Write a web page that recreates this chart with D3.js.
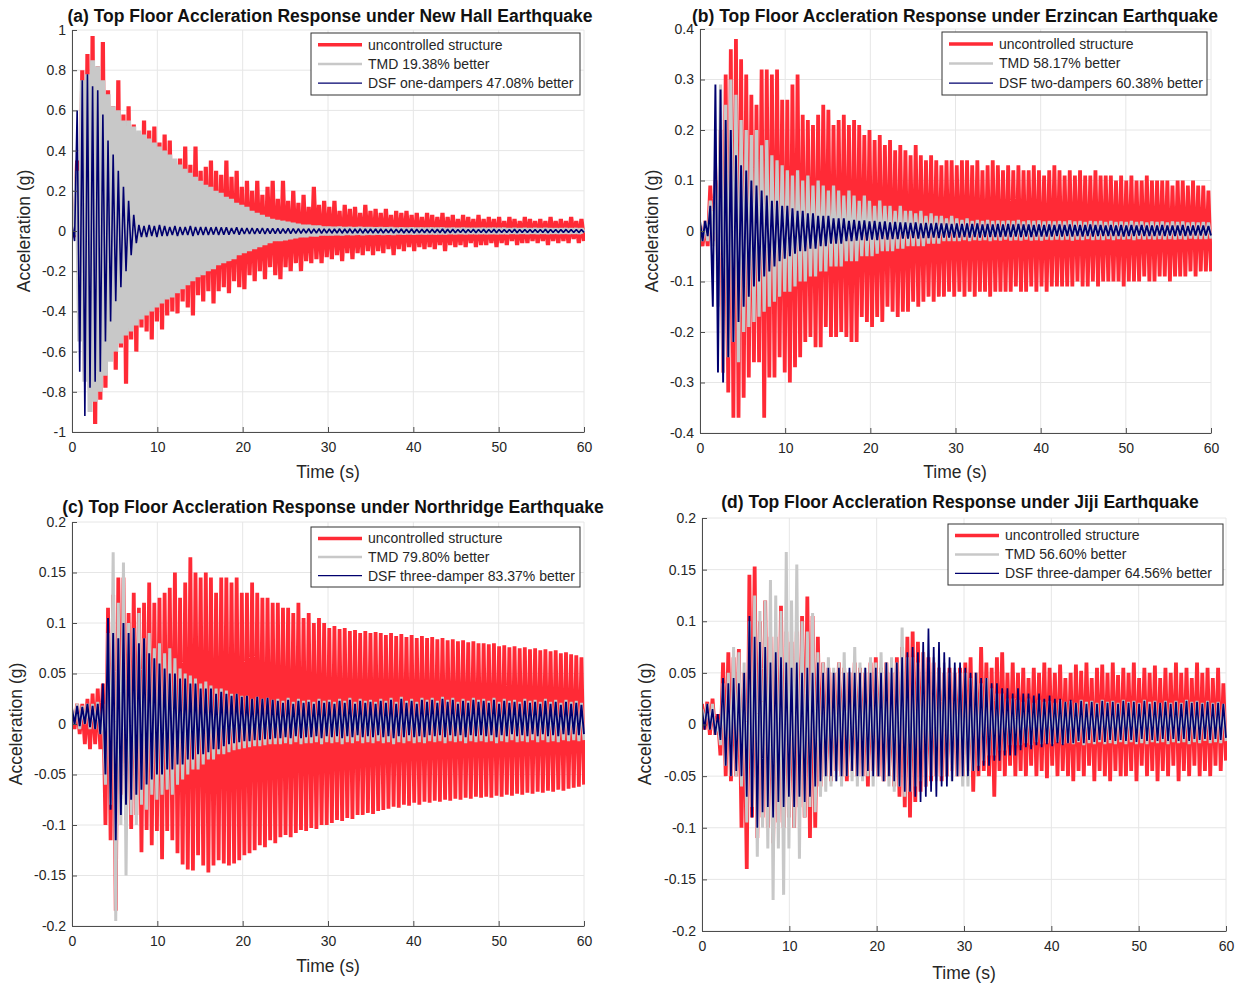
<!DOCTYPE html>
<html>
<head>
<meta charset="utf-8">
<script src="https://cdn.jsdelivr.net/npm/d3@7"></script>
<style>
  body { margin: 0; background: #fff; }
  svg { font-family: "Liberation Sans", Arial, sans-serif; }
</style>
</head>
<body>
<div id="chart"></div>
<script>
// ---------- data (peak values, alternating up / down swings, 0..60 s) ----------
const timeTicks = [0, 10, 20, 30, 40, 50, 60];
const accTicksNewHall = [-1, -0.8, -0.6, -0.4, -0.2, 0, 0.2, 0.4, 0.6, 0.8, 1];
const accTicksErzincan = [-0.4, -0.3, -0.2, -0.1, 0, 0.1, 0.2, 0.3, 0.4];
const accTicksSmall = [-0.2, -0.15, -0.1, -0.05, 0, 0.05, 0.1, 0.15, 0.2];

// (a) New Hall
const newHallUncUp = [
  0.03,0.35,0.80,0.88,0.97,0.82,0.94,0.70,0.62,0.75,
  0.58,0.62,0.53,0.45,0.55,0.50,0.52,0.44,0.48,0.45,
  0.35,0.36,0.42,0.33,0.42,0.30,0.32,0.35,0.30,0.28,
  0.35,0.27,0.30,0.22,0.25,0.20,0.25,0.18,0.22,0.25,
  0.16,0.25,0.15,0.20,0.14,0.18,0.12,0.22,0.13,0.15,
  0.12,0.15,0.10,0.13,0.11,0.12,0.09,0.13,0.10,0.11,
  0.09,0.11,0.08,0.10,0.09,0.10,0.08,0.09,0.07,0.09,
  0.08,0.07,0.09,0.07,0.08,0.06,0.08,0.07,0.06,0.08,
  0.06,0.07,0.06,0.07,0.05,0.07,0.06,0.05,0.07,0.06,
  0.05,0.06,0.05,0.07,0.05,0.06,0.05,0.07,0.05,0.06];
const newHallUncLo = [
  -0.03,-0.40,-0.70,-0.79,-0.96,-0.84,-0.78,-0.60,-0.69,-0.58,
  -0.76,-0.54,-0.60,-0.48,-0.50,-0.54,-0.45,-0.49,-0.42,-0.40,
  -0.41,-0.35,-0.38,-0.42,-0.32,-0.35,-0.30,-0.36,-0.30,-0.28,
  -0.31,-0.25,-0.28,-0.29,-0.22,-0.25,-0.20,-0.24,-0.18,-0.22,
  -0.24,-0.18,-0.20,-0.16,-0.20,-0.15,-0.16,-0.14,-0.16,-0.13,
  -0.14,-0.12,-0.15,-0.11,-0.14,-0.11,-0.12,-0.10,-0.12,-0.10,
  -0.11,-0.09,-0.12,-0.09,-0.10,-0.08,-0.10,-0.08,-0.09,-0.08,
  -0.09,-0.07,-0.10,-0.07,-0.08,-0.07,-0.08,-0.06,-0.08,-0.07,
  -0.07,-0.06,-0.08,-0.06,-0.07,-0.05,-0.07,-0.06,-0.06,-0.05,
  -0.06,-0.05,-0.07,-0.05,-0.06,-0.05,-0.06,-0.04,-0.06,-0.05];
const newHallTmdUp = [
  0.02,0.30,0.75,0.78,0.85,0.82,0.75,0.68,0.62,0.60,
  0.55,0.55,0.52,0.50,0.48,0.46,0.44,0.42,0.40,0.38,
  0.36,0.33,0.31,0.29,0.27,0.25,0.23,0.22,0.20,0.19,
  0.17,0.16,0.14,0.13,0.12,0.10,0.09,0.08,0.07,0.06,
  0.055,0.05,0.045,0.04,0.035,0.03,0.03,0.025,0.025,0.02,
  0.02,0.018,0.02,0.017,0.018,0.016,0.018,0.016,0.017,0.015,
  0.016,0.015,0.016,0.014,0.015,0.014,0.015,0.013,0.014,0.013,
  0.014,0.013,0.014,0.012,0.013,0.012,0.013,0.012,0.012,0.011,
  0.012,0.011,0.012,0.011,0.012,0.010,0.011,0.010,0.011,0.010,
  0.011,0.010,0.011,0.010,0.010,0.009,0.010,0.009,0.010,0.009];
const newHallTmdLo = [
  -0.02,-0.55,-0.75,-0.90,-0.85,-0.80,-0.72,-0.65,-0.60,-0.56,
  -0.52,-0.50,-0.47,-0.44,-0.42,-0.40,-0.38,-0.36,-0.34,-0.33,
  -0.31,-0.29,-0.27,-0.25,-0.23,-0.22,-0.20,-0.19,-0.17,-0.16,
  -0.15,-0.14,-0.12,-0.11,-0.10,-0.09,-0.08,-0.07,-0.06,-0.05,
  -0.05,-0.045,-0.04,-0.035,-0.03,-0.03,-0.025,-0.025,-0.02,-0.02,
  -0.02,-0.018,-0.02,-0.017,-0.018,-0.016,-0.018,-0.016,-0.017,-0.015,
  -0.016,-0.015,-0.016,-0.014,-0.015,-0.014,-0.015,-0.013,-0.014,-0.013,
  -0.014,-0.013,-0.014,-0.012,-0.013,-0.012,-0.013,-0.012,-0.012,-0.011,
  -0.012,-0.011,-0.012,-0.011,-0.012,-0.010,-0.011,-0.010,-0.011,-0.010,
  -0.011,-0.010,-0.011,-0.010,-0.010,-0.009,-0.010,-0.009,-0.010,-0.009];
const newHallDsfUp = [
  0.03,0.60,0.75,0.78,0.72,0.70,0.58,0.45,0.38,0.30,
  0.22,0.15,0.08,0.03,0.025,0.03,0.025,0.03,0.025,0.02,
  0.025,0.02,0.02,0.025,0.02,0.02,0.02,0.018,0.02,0.018,
  0.018,0.015,0.018,0.015,0.015,0.015,0.013,0.015,0.013,0.013,
  0.013,0.012,0.013,0.012,0.012,0.011,0.012,0.011,0.012,0.011,
  0.011,0.010,0.011,0.010,0.011,0.010,0.011,0.010,0.010,0.010,
  0.010,0.009,0.010,0.009,0.010,0.009,0.010,0.009,0.009,0.009,
  0.009,0.009,0.010,0.009,0.009,0.008,0.009,0.008,0.009,0.008,
  0.009,0.008,0.009,0.008,0.008,0.008,0.009,0.008,0.008,0.008,
  0.008,0.008,0.009,0.008,0.008,0.007,0.008,0.008,0.008,0.007];
const newHallDsfLo = [
  -0.05,-0.70,-0.92,-0.78,-0.75,-0.70,-0.55,-0.45,-0.35,-0.28,
  -0.20,-0.12,-0.06,-0.03,-0.03,-0.025,-0.03,-0.025,-0.025,-0.02,
  -0.025,-0.02,-0.02,-0.025,-0.02,-0.02,-0.02,-0.018,-0.02,-0.018,
  -0.018,-0.015,-0.018,-0.015,-0.015,-0.015,-0.013,-0.015,-0.013,-0.013,
  -0.013,-0.012,-0.013,-0.012,-0.012,-0.011,-0.012,-0.011,-0.012,-0.011,
  -0.011,-0.010,-0.011,-0.010,-0.011,-0.010,-0.011,-0.010,-0.010,-0.010,
  -0.010,-0.009,-0.010,-0.009,-0.010,-0.009,-0.010,-0.009,-0.009,-0.009,
  -0.009,-0.009,-0.010,-0.009,-0.009,-0.008,-0.009,-0.008,-0.009,-0.008,
  -0.009,-0.008,-0.009,-0.008,-0.008,-0.008,-0.009,-0.008,-0.008,-0.008,
  -0.008,-0.008,-0.009,-0.008,-0.008,-0.007,-0.008,-0.008,-0.008,-0.007];

// (b) Erzincan
const erzUncUp = [
  0.01,0.02,0.09,0.10,0.20,0.31,0.36,0.38,0.34,0.31,
  0.27,0.25,0.32,0.32,0.31,0.32,0.26,0.26,0.29,0.31,
  0.23,0.22,0.21,0.23,0.25,0.24,0.21,0.22,0.23,0.21,
  0.22,0.21,0.19,0.20,0.18,0.19,0.17,0.18,0.16,0.17,
  0.16,0.15,0.17,0.15,0.14,0.15,0.14,0.13,0.14,0.14,
  0.13,0.14,0.14,0.13,0.14,0.12,0.13,0.14,0.13,0.12,
  0.13,0.12,0.13,0.12,0.12,0.13,0.12,0.11,0.12,0.13,
  0.12,0.11,0.12,0.11,0.12,0.11,0.11,0.12,0.11,0.11,
  0.11,0.10,0.11,0.10,0.11,0.10,0.10,0.11,0.10,0.10,
  0.10,0.10,0.09,0.10,0.10,0.09,0.10,0.09,0.09,0.08];
const erzUncLo = [
  -0.03,-0.03,-0.02,-0.05,-0.28,-0.32,-0.37,-0.37,-0.33,-0.29,
  -0.26,-0.26,-0.37,-0.29,-0.29,-0.25,-0.28,-0.30,-0.27,-0.25,
  -0.22,-0.21,-0.23,-0.23,-0.19,-0.21,-0.21,-0.20,-0.21,-0.22,
  -0.22,-0.17,-0.18,-0.19,-0.17,-0.18,-0.15,-0.16,-0.17,-0.16,
  -0.16,-0.14,-0.15,-0.14,-0.13,-0.14,-0.13,-0.13,-0.12,-0.13,
  -0.12,-0.13,-0.12,-0.13,-0.12,-0.12,-0.13,-0.12,-0.12,-0.12,
  -0.12,-0.11,-0.12,-0.12,-0.11,-0.12,-0.11,-0.12,-0.11,-0.11,
  -0.11,-0.11,-0.11,-0.10,-0.11,-0.11,-0.10,-0.11,-0.10,-0.10,
  -0.10,-0.10,-0.11,-0.10,-0.10,-0.10,-0.09,-0.10,-0.10,-0.09,
  -0.09,-0.10,-0.09,-0.09,-0.09,-0.08,-0.09,-0.08,-0.08,-0.08];
const erzTmdUp = [
  0.01,0.02,0.06,0.12,0.29,0.25,0.30,0.27,0.22,0.20,
  0.19,0.20,0.17,0.18,0.15,0.14,0.13,0.12,0.11,0.12,
  0.10,0.11,0.09,0.10,0.09,0.08,0.09,0.08,0.07,0.08,
  0.07,0.06,0.07,0.06,0.05,0.06,0.05,0.05,0.04,0.05,
  0.04,0.04,0.035,0.04,0.03,0.035,0.03,0.03,0.025,0.03,
  0.025,0.022,0.025,0.020,0.022,0.020,0.022,0.020,0.021,0.020,
  0.021,0.020,0.022,0.019,0.021,0.020,0.021,0.019,0.020,0.019,
  0.020,0.019,0.021,0.019,0.020,0.018,0.020,0.019,0.020,0.018,
  0.020,0.018,0.019,0.018,0.020,0.018,0.019,0.017,0.019,0.018,
  0.019,0.017,0.019,0.018,0.019,0.017,0.018,0.017,0.018,0.017];
const erzTmdLo = [
  -0.02,-0.02,-0.03,-0.15,-0.28,-0.25,-0.22,-0.26,-0.20,-0.19,
  -0.18,-0.17,-0.16,-0.15,-0.14,-0.13,-0.12,-0.12,-0.11,-0.10,
  -0.10,-0.09,-0.09,-0.08,-0.08,-0.07,-0.07,-0.07,-0.06,-0.06,
  -0.06,-0.05,-0.05,-0.05,-0.045,-0.04,-0.04,-0.04,-0.035,-0.035,
  -0.03,-0.03,-0.03,-0.03,-0.025,-0.025,-0.025,-0.02,-0.02,-0.02,
  -0.020,-0.018,-0.020,-0.018,-0.019,-0.018,-0.020,-0.018,-0.019,-0.017,
  -0.019,-0.018,-0.019,-0.017,-0.019,-0.018,-0.019,-0.017,-0.018,-0.017,
  -0.018,-0.017,-0.019,-0.017,-0.018,-0.016,-0.018,-0.017,-0.018,-0.016,
  -0.018,-0.016,-0.017,-0.016,-0.018,-0.016,-0.017,-0.016,-0.017,-0.016,
  -0.017,-0.016,-0.017,-0.016,-0.017,-0.015,-0.016,-0.016,-0.016,-0.015];
const erzDsfUp = [
  0.02,0.02,0.05,0.29,0.28,0.22,0.20,0.15,0.13,0.12,
  0.10,0.09,0.08,0.07,0.06,0.06,0.05,0.05,0.045,0.04,
  0.04,0.035,0.035,0.03,0.03,0.03,0.025,0.025,0.025,0.02,
  0.022,0.02,0.021,0.019,0.02,0.018,0.019,0.017,0.018,0.017,
  0.017,0.016,0.017,0.015,0.016,0.015,0.016,0.015,0.015,0.014,
  0.015,0.014,0.015,0.014,0.015,0.013,0.014,0.013,0.014,0.013,
  0.014,0.013,0.014,0.013,0.013,0.012,0.013,0.012,0.013,0.012,
  0.013,0.012,0.013,0.012,0.012,0.012,0.013,0.012,0.012,0.011,
  0.012,0.011,0.012,0.011,0.012,0.011,0.012,0.011,0.011,0.011,
  0.012,0.011,0.011,0.011,0.012,0.010,0.011,0.011,0.011,0.010];
const erzDsfLo = [
  -0.02,-0.01,-0.15,-0.28,-0.30,-0.25,-0.22,-0.18,-0.15,-0.13,
  -0.11,-0.10,-0.09,-0.08,-0.07,-0.06,-0.055,-0.05,-0.045,-0.04,
  -0.04,-0.035,-0.035,-0.03,-0.03,-0.025,-0.025,-0.025,-0.02,-0.02,
  -0.019,-0.018,-0.019,-0.017,-0.018,-0.016,-0.017,-0.016,-0.016,-0.015,
  -0.015,-0.014,-0.015,-0.014,-0.014,-0.013,-0.014,-0.013,-0.013,-0.013,
  -0.013,-0.012,-0.013,-0.012,-0.013,-0.012,-0.012,-0.012,-0.012,-0.011,
  -0.012,-0.011,-0.012,-0.011,-0.012,-0.011,-0.011,-0.011,-0.011,-0.010,
  -0.011,-0.010,-0.011,-0.010,-0.011,-0.010,-0.011,-0.010,-0.010,-0.010,
  -0.010,-0.010,-0.011,-0.010,-0.010,-0.009,-0.010,-0.010,-0.010,-0.009,
  -0.010,-0.009,-0.010,-0.009,-0.010,-0.009,-0.009,-0.009,-0.009,-0.009];

// (c) Northridge
const nrUncUp = [
  0.01,0.02,0.02,0.025,0.03,0.035,0.04,0.115,0.128,0.145,
  0.145,0.11,0.13,0.115,0.12,0.14,0.12,0.125,0.13,0.135,
  0.15,0.125,0.14,0.165,0.15,0.145,0.15,0.145,0.13,0.145,
  0.145,0.14,0.145,0.13,0.13,0.14,0.13,0.125,0.125,0.12,
  0.12,0.115,0.115,0.11,0.12,0.105,0.11,0.10,0.105,0.10,
  0.095,0.097,0.094,0.095,0.092,0.093,0.09,0.092,0.09,0.091,
  0.09,0.088,0.09,0.087,0.089,0.086,0.088,0.085,0.087,0.085,
  0.086,0.084,0.085,0.083,0.084,0.082,0.083,0.081,0.082,0.08,
  0.08,0.079,0.08,0.077,0.078,0.076,0.077,0.075,0.076,0.074,
  0.075,0.073,0.074,0.072,0.073,0.07,0.071,0.069,0.068,0.066];
const nrUncLo = [
  -0.005,-0.01,-0.02,-0.025,-0.02,-0.025,-0.10,-0.115,-0.185,-0.07,
  -0.095,-0.104,-0.09,-0.127,-0.105,-0.12,-0.106,-0.134,-0.106,-0.115,
  -0.128,-0.139,-0.144,-0.145,-0.13,-0.14,-0.147,-0.14,-0.135,-0.138,
  -0.14,-0.138,-0.135,-0.13,-0.128,-0.125,-0.12,-0.122,-0.115,-0.118,
  -0.112,-0.11,-0.112,-0.108,-0.105,-0.106,-0.103,-0.104,-0.1,-0.1,
  -0.098,-0.095,-0.096,-0.093,-0.094,-0.09,-0.09,-0.088,-0.089,-0.086,
  -0.085,-0.084,-0.082,-0.083,-0.08,-0.081,-0.078,-0.08,-0.077,-0.078,
  -0.076,-0.077,-0.075,-0.076,-0.074,-0.075,-0.073,-0.074,-0.072,-0.073,
  -0.072,-0.073,-0.071,-0.072,-0.07,-0.071,-0.069,-0.07,-0.068,-0.069,
  -0.067,-0.068,-0.066,-0.067,-0.065,-0.066,-0.064,-0.063,-0.062,-0.06];
const nrTmdUp = [
  0.015,0.02,0.018,0.02,0.02,0.022,0.02,0.09,0.17,0.12,
  0.16,0.10,0.095,0.11,0.085,0.09,0.075,0.08,0.07,0.075,
  0.065,0.055,0.05,0.048,0.045,0.04,0.042,0.038,0.035,0.035,
  0.033,0.03,0.03,0.028,0.028,0.025,0.027,0.025,0.026,0.024,
  0.025,0.023,0.026,0.022,0.025,0.023,0.024,0.022,0.025,0.023,
  0.024,0.022,0.025,0.023,0.026,0.022,0.025,0.023,0.024,0.022,
  0.025,0.023,0.026,0.022,0.027,0.023,0.025,0.022,0.026,0.024,
  0.026,0.023,0.027,0.024,0.026,0.022,0.025,0.023,0.026,0.024,
  0.025,0.023,0.026,0.022,0.025,0.023,0.024,0.022,0.025,0.023,
  0.024,0.022,0.025,0.022,0.024,0.021,0.024,0.022,0.023,0.021];
const nrTmdLo = [
  0.0,-0.005,0.0,-0.005,-0.005,-0.01,-0.06,-0.08,-0.195,-0.10,
  -0.15,-0.09,-0.10,-0.08,-0.085,-0.07,-0.075,-0.07,-0.065,-0.07,
  -0.06,-0.055,-0.05,-0.045,-0.045,-0.04,-0.035,-0.035,-0.03,-0.03,
  -0.028,-0.026,-0.025,-0.024,-0.023,-0.022,-0.022,-0.021,-0.02,-0.02,
  -0.02,-0.019,-0.02,-0.018,-0.02,-0.019,-0.019,-0.018,-0.02,-0.018,
  -0.019,-0.018,-0.02,-0.018,-0.019,-0.017,-0.019,-0.018,-0.019,-0.017,
  -0.019,-0.018,-0.02,-0.018,-0.019,-0.017,-0.019,-0.018,-0.019,-0.017,
  -0.018,-0.017,-0.019,-0.017,-0.018,-0.017,-0.019,-0.017,-0.018,-0.017,
  -0.018,-0.017,-0.019,-0.017,-0.018,-0.016,-0.018,-0.017,-0.018,-0.016,
  -0.018,-0.016,-0.018,-0.017,-0.018,-0.016,-0.017,-0.016,-0.017,-0.016];
const nrDsfUp = [
  0.015,0.018,0.017,0.02,0.018,0.02,0.04,0.105,0.09,0.085,
  0.10,0.09,0.095,0.08,0.085,0.07,0.065,0.06,0.055,0.05,
  0.05,0.045,0.045,0.04,0.04,0.035,0.035,0.035,0.03,0.032,
  0.03,0.028,0.03,0.027,0.028,0.025,0.027,0.025,0.026,0.024,
  0.023,0.021,0.024,0.02,0.023,0.021,0.022,0.02,0.023,0.021,
  0.022,0.02,0.023,0.021,0.024,0.02,0.023,0.021,0.022,0.02,
  0.023,0.021,0.024,0.02,0.025,0.021,0.023,0.02,0.024,0.022,
  0.024,0.021,0.025,0.022,0.024,0.02,0.023,0.021,0.024,0.022,
  0.023,0.021,0.024,0.02,0.023,0.021,0.022,0.02,0.023,0.021,
  0.022,0.02,0.023,0.02,0.022,0.019,0.022,0.02,0.021,0.019];
const nrDsfLo = [
  0.0,-0.002,0.0,-0.003,-0.005,-0.01,-0.05,-0.085,-0.115,-0.09,
  -0.08,-0.075,-0.07,-0.065,-0.06,-0.055,-0.05,-0.05,-0.045,-0.045,
  -0.04,-0.04,-0.035,-0.035,-0.03,-0.03,-0.028,-0.025,-0.025,-0.022,
  -0.02,-0.019,-0.018,-0.017,-0.017,-0.016,-0.016,-0.015,-0.015,-0.014,
  -0.014,-0.013,-0.014,-0.012,-0.014,-0.013,-0.013,-0.012,-0.014,-0.012,
  -0.013,-0.012,-0.014,-0.012,-0.013,-0.011,-0.013,-0.012,-0.013,-0.011,
  -0.013,-0.012,-0.014,-0.012,-0.013,-0.011,-0.013,-0.012,-0.013,-0.011,
  -0.012,-0.011,-0.013,-0.011,-0.012,-0.011,-0.013,-0.011,-0.012,-0.011,
  -0.012,-0.011,-0.013,-0.011,-0.012,-0.010,-0.012,-0.011,-0.012,-0.010,
  -0.012,-0.010,-0.012,-0.011,-0.012,-0.010,-0.011,-0.010,-0.011,-0.010];

// (d) Jiji
const jijiUncUp = [
  0.02,0.022,0.025,0.01,0.06,0.07,0.065,0.073,0.05,0.145,
  0.153,0.10,0.12,0.085,0.085,0.115,0.09,0.08,0.09,0.105,
  0.124,0.105,0.085,0.06,0.055,0.05,0.06,0.055,0.05,0.06,
  0.055,0.05,0.06,0.065,0.055,0.06,0.05,0.065,0.075,0.085,
  0.09,0.08,0.07,0.065,0.06,0.055,0.05,0.055,0.05,0.055,
  0.06,0.065,0.05,0.075,0.06,0.055,0.065,0.07,0.05,0.06,
  0.05,0.055,0.045,0.055,0.05,0.06,0.055,0.05,0.058,0.045,
  0.05,0.058,0.052,0.06,0.045,0.055,0.058,0.05,0.06,0.048,
  0.055,0.05,0.06,0.045,0.055,0.05,0.057,0.045,0.055,0.05,
  0.06,0.05,0.055,0.045,0.06,0.05,0.055,0.045,0.055,0.04];
const jijiUncLo = [
  -0.005,-0.01,-0.01,-0.03,-0.05,-0.055,-0.05,-0.10,-0.14,-0.09,
  -0.11,-0.09,-0.10,-0.115,-0.095,-0.10,-0.09,-0.10,-0.08,-0.09,
  -0.11,-0.10,-0.06,-0.05,-0.055,-0.045,-0.05,-0.055,-0.045,-0.05,
  -0.05,-0.06,-0.045,-0.05,-0.055,-0.05,-0.06,-0.07,-0.08,-0.09,
  -0.075,-0.065,-0.06,-0.055,-0.05,-0.055,-0.05,-0.045,-0.05,-0.05,
  -0.045,-0.065,-0.05,-0.045,-0.05,-0.07,-0.045,-0.05,-0.04,-0.05,
  -0.045,-0.05,-0.04,-0.05,-0.045,-0.052,-0.04,-0.05,-0.045,-0.05,
  -0.055,-0.045,-0.05,-0.04,-0.055,-0.045,-0.05,-0.055,-0.045,-0.05,
  -0.05,-0.045,-0.055,-0.04,-0.05,-0.045,-0.055,-0.045,-0.05,-0.04,
  -0.055,-0.045,-0.05,-0.04,-0.05,-0.045,-0.05,-0.04,-0.045,-0.035];
const jijiTmdUp = [
  0.015,0.02,0.02,0.005,0.04,0.05,0.075,0.07,0.06,0.10,
  0.125,0.11,0.12,0.14,0.125,0.11,0.167,0.12,0.155,0.10,
  0.09,0.108,0.07,0.06,0.065,0.055,0.06,0.07,0.05,0.075,
  0.06,0.055,0.065,0.06,0.07,0.06,0.065,0.06,0.094,0.065,
  0.065,0.06,0.07,0.06,0.065,0.055,0.06,0.05,0.055,0.05,
  0.05,0.045,0.05,0.04,0.045,0.035,0.03,0.03,0.025,0.025,
  0.024,0.022,0.025,0.021,0.024,0.022,0.023,0.021,0.024,0.022,
  0.023,0.021,0.024,0.022,0.023,0.021,0.024,0.022,0.023,0.021,
  0.024,0.022,0.023,0.021,0.024,0.022,0.023,0.021,0.023,0.021,
  0.023,0.021,0.024,0.022,0.023,0.021,0.023,0.021,0.022,0.02];
const jijiTmdLo = [
  0.0,-0.005,-0.01,-0.02,-0.04,-0.05,-0.05,-0.06,-0.095,-0.08,
  -0.128,-0.10,-0.12,-0.17,-0.12,-0.165,-0.12,-0.10,-0.13,-0.09,
  -0.08,-0.085,-0.07,-0.065,-0.06,-0.055,-0.06,-0.05,-0.055,-0.06,
  -0.055,-0.05,-0.06,-0.05,-0.055,-0.06,-0.065,-0.06,-0.07,-0.065,
  -0.06,-0.055,-0.06,-0.05,-0.055,-0.05,-0.05,-0.055,-0.05,-0.06,
  -0.06,-0.045,-0.04,-0.035,-0.03,-0.03,-0.025,-0.025,-0.02,-0.02,
  -0.02,-0.018,-0.02,-0.017,-0.019,-0.018,-0.019,-0.017,-0.019,-0.018,
  -0.019,-0.017,-0.02,-0.018,-0.019,-0.017,-0.019,-0.018,-0.019,-0.017,
  -0.019,-0.017,-0.019,-0.018,-0.019,-0.017,-0.018,-0.017,-0.019,-0.017,
  -0.018,-0.017,-0.019,-0.017,-0.018,-0.016,-0.018,-0.017,-0.018,-0.016];
const jijiDsfUp = [
  0.015,0.02,0.015,0.01,0.045,0.04,0.045,0.04,0.05,0.105,
  0.085,0.08,0.075,0.06,0.07,0.065,0.06,0.055,0.06,0.05,
  0.055,0.05,0.06,0.05,0.055,0.05,0.055,0.05,0.055,0.05,
  0.05,0.055,0.05,0.055,0.05,0.06,0.055,0.06,0.065,0.07,
  0.075,0.07,0.08,0.093,0.075,0.08,0.07,0.065,0.06,0.06,
  0.055,0.05,0.05,0.045,0.045,0.04,0.04,0.035,0.035,0.03,
  0.035,0.03,0.03,0.028,0.03,0.025,0.028,0.025,0.025,0.022,
  0.024,0.021,0.023,0.02,0.022,0.02,0.023,0.021,0.022,0.02,
  0.023,0.021,0.022,0.02,0.023,0.02,0.022,0.021,0.022,0.02,
  0.022,0.02,0.023,0.021,0.022,0.02,0.022,0.02,0.021,0.02];
const jijiDsfLo = [
  -0.005,-0.005,-0.01,-0.015,-0.04,-0.05,-0.045,-0.05,-0.07,-0.09,
  -0.10,-0.085,-0.08,-0.09,-0.075,-0.08,-0.07,-0.08,-0.07,-0.075,
  -0.07,-0.06,-0.055,-0.05,-0.05,-0.055,-0.05,-0.05,-0.045,-0.05,
  -0.05,-0.045,-0.05,-0.05,-0.055,-0.05,-0.055,-0.06,-0.065,-0.065,
  -0.07,-0.075,-0.07,-0.065,-0.07,-0.06,-0.06,-0.055,-0.05,-0.05,
  -0.05,-0.045,-0.045,-0.04,-0.04,-0.035,-0.035,-0.03,-0.03,-0.03,
  -0.025,-0.022,-0.024,-0.02,-0.022,-0.019,-0.021,-0.018,-0.02,-0.018,
  -0.018,-0.016,-0.018,-0.015,-0.017,-0.015,-0.017,-0.015,-0.016,-0.015,
  -0.016,-0.015,-0.017,-0.014,-0.016,-0.015,-0.016,-0.014,-0.016,-0.014,
  -0.016,-0.014,-0.016,-0.014,-0.015,-0.014,-0.015,-0.014,-0.015,-0.013];

// ---------- styles ----------
const RED = "#ff2a36";
const GRAY = "#c8c8c8";
const NAVY = "#00006e";
const AXIS_COLOR = "#4d4d4d";
const TEXT_COLOR = "#262626";
const seriesColors = [RED, GRAY, NAVY];
const legendWidths = [3.5, 2.5, 1.2];

// Panel options built from the arrays above
const panels = [
  {
    title: "(a) Top Floor Accleration Response under New Hall Earthquake",
    box: { l: 72, r: 584, t: 30, b: 432 },
    yDomain: [-1, 1], yTicks: accTicksNewHall,
    titlePos: [330, 16], xLabelPos: [328, 472], yLabelPos: [24, 231],
    legendBox: { x: 311, y: 33, w: 269, h: 62 },
    labels: ["uncontrolled structure", "TMD 19.38% better", "DSF one-dampers 47.08% better"],
    widths: [4.2, 5, 1.6],
    series: [[newHallUncUp, newHallUncLo], [newHallTmdUp, newHallTmdLo], [newHallDsfUp, newHallDsfLo]]
  },
  {
    title: "(b) Top Floor Accleration Response under Erzincan Earthquake",
    box: { l: 700, r: 1211, t: 29, b: 433 },
    yDomain: [-0.4, 0.4], yTicks: accTicksErzincan,
    titlePos: [955, 16], xLabelPos: [955, 472], yLabelPos: [652, 231],
    legendBox: { x: 942, y: 32, w: 265, h: 63 },
    labels: ["uncontrolled structure", "TMD 58.17% better", "DSF two-dampers 60.38% better"],
    widths: [3.8, 3.2, 1.9],
    series: [[erzUncUp, erzUncLo], [erzTmdUp, erzTmdLo], [erzDsfUp, erzDsfLo]]
  },
  {
    title: "(c) Top Floor Accleration Response under Northridge Earthquake",
    box: { l: 72, r: 584, t: 522, b: 926 },
    yDomain: [-0.2, 0.2], yTicks: accTicksSmall,
    titlePos: [333, 507], xLabelPos: [328, 966], yLabelPos: [16, 724],
    legendBox: { x: 311, y: 527, w: 269, h: 60 },
    labels: ["uncontrolled structure", "TMD 79.80% better", "DSF three-damper 83.37% better"],
    widths: [3.8, 3, 1.9],
    series: [[nrUncUp, nrUncLo], [nrTmdUp, nrTmdLo], [nrDsfUp, nrDsfLo]]
  },
  {
    title: "(d) Top Floor Accleration Response under Jiji Earthquake",
    box: { l: 702, r: 1226, t: 518, b: 931 },
    yDomain: [-0.2, 0.2], yTicks: accTicksSmall,
    titlePos: [960, 502], xLabelPos: [964, 973], yLabelPos: [645, 724],
    legendBox: { x: 948, y: 524, w: 275, h: 61 },
    labels: ["uncontrolled structure", "TMD 56.60% better", "DSF three-damper 64.56% better"],
    widths: [3.8, 3.0, 1.7],
    series: [[jijiUncUp, jijiUncLo], [jijiTmdUp, jijiTmdLo], [jijiDsfUp, jijiDsfLo]]
  }
];

// ---------- drawing ----------
const svg = d3.select("#chart")
  .append("svg")
  .attr("width", 1243)
  .attr("height", 986);

function drawPanel(p) {
  const x = d3.scaleLinear().domain([0, 60]).range([p.box.l, p.box.r]);
  const y = d3.scaleLinear().domain(p.yDomain).range([p.box.b, p.box.t]);
  const g = svg.append("g");

  // clip so the thick strokes stay inside the plot area
  const clipId = "clip" + p.box.l + "_" + p.box.t;
  g.append("clipPath").attr("id", clipId)
    .append("rect")
    .attr("x", p.box.l).attr("y", p.box.t - 2)
    .attr("width", p.box.r - p.box.l + 1).attr("height", p.box.b - p.box.t + 4);

  // grid lines
  g.selectAll(".vgrid").data(timeTicks).enter().append("line")
    .attr("x1", d => x(d)).attr("x2", d => x(d))
    .attr("y1", p.box.t).attr("y2", p.box.b)
    .attr("stroke", "#e6e6e6").attr("stroke-width", 1);
  g.selectAll(".hgrid").data(p.yTicks).enter().append("line")
    .attr("x1", p.box.l).attr("x2", p.box.r)
    .attr("y1", d => y(d)).attr("y2", d => y(d))
    .attr("stroke", "#e6e6e6").attr("stroke-width", 1);

  // series: alternating up/down peaks on an even time grid over 0..60 s
  const plot = g.append("g").attr("clip-path", `url(#${clipId})`);
  p.series.forEach(([up, lo], si) => {
    const vals = [];
    up.forEach((u, i) => {
      vals.push(u);
      if (lo[i] !== undefined) vals.push(lo[i]);
    });
    const n = vals.length;
    const line = d3.line()
      .x((d, k) => x(k * 60 / (n - 1)))
      .y(d => y(d));
    plot.append("path")
      .attr("d", line(vals))
      .attr("fill", "none")
      .attr("stroke", seriesColors[si])
      .attr("stroke-width", p.widths[si])
      .attr("stroke-linejoin", "miter")
      .attr("stroke-miterlimit", 1.5);
  });

  // axes (MATLAB style: ticks inward, no box)
  const xAxis = g.append("g")
    .attr("transform", `translate(0,${p.box.b})`)
    .call(d3.axisBottom(x).tickValues(timeTicks).tickSizeInner(-5).tickSizeOuter(0).tickPadding(10));
  const yAxis = g.append("g")
    .attr("transform", `translate(${p.box.l},0)`)
    .call(d3.axisLeft(y).tickValues(p.yTicks).tickSizeInner(-5).tickSizeOuter(0).tickPadding(6)
      .tickFormat(d => String(d)));
  [xAxis, yAxis].forEach(a => {
    a.select(".domain").attr("stroke", AXIS_COLOR);
    a.selectAll(".tick line").attr("stroke", AXIS_COLOR);
    a.selectAll(".tick text")
      .attr("fill", TEXT_COLOR)
      .style("font-size", "14px")
      .style("font-family", "'Liberation Sans', Arial, sans-serif");
  });

  // title
  g.append("text")
    .attr("x", p.titlePos[0]).attr("y", p.titlePos[1])
    .attr("dy", "0.35em")
    .attr("text-anchor", "middle")
    .style("font-size", "17.5px")
    .style("font-weight", "bold")
    .attr("fill", "#111")
    .text(p.title);

  // axis labels
  g.append("text")
    .attr("x", p.xLabelPos[0]).attr("y", p.xLabelPos[1])
    .attr("dy", "0.35em")
    .attr("text-anchor", "middle")
    .style("font-size", "17.5px")
    .attr("fill", TEXT_COLOR)
    .text("Time (s)");
  g.append("text")
    .attr("transform", `translate(${p.yLabelPos[0]},${p.yLabelPos[1]}) rotate(-90)`)
    .attr("dy", "0.35em")
    .attr("text-anchor", "middle")
    .style("font-size", "17.5px")
    .attr("fill", TEXT_COLOR)
    .text("Acceleration (g)");

  // legend
  const lb = p.legendBox;
  const leg = g.append("g");
  leg.append("rect")
    .attr("x", lb.x).attr("y", lb.y)
    .attr("width", lb.w).attr("height", lb.h)
    .attr("fill", "#fff")
    .attr("stroke", "#333").attr("stroke-width", 1);
  p.labels.forEach((label, i) => {
    const ry = lb.y + lb.h * (0.19 + 0.31 * i);
    leg.append("line")
      .attr("x1", lb.x + 7).attr("x2", lb.x + 51)
      .attr("y1", ry).attr("y2", ry)
      .attr("stroke", seriesColors[i])
      .attr("stroke-width", legendWidths[i]);
    leg.append("text")
      .attr("x", lb.x + 57).attr("y", ry)
      .attr("dy", "0.35em")
      .style("font-size", "14px")
      .attr("fill", TEXT_COLOR)
      .text(label);
  });
}

panels.forEach(drawPanel);
</script>
</body>
</html>
